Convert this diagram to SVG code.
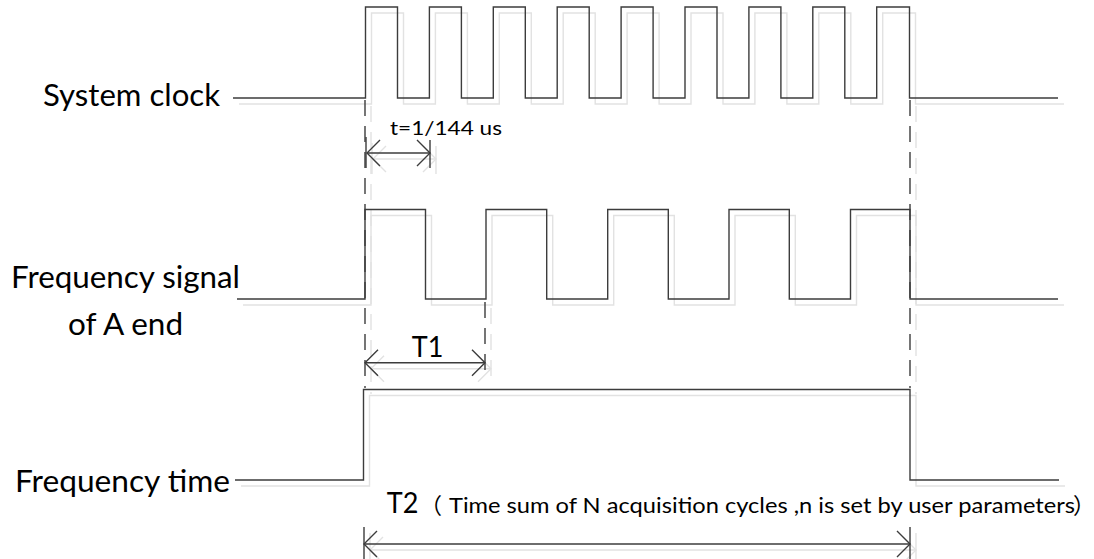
<svg xmlns="http://www.w3.org/2000/svg" xmlns:xlink="http://www.w3.org/1999/xlink" width="1094" height="559" viewBox="0 0 1094 559">
<style>
  .lbl { font-family: Lato, "Open Sans", "Liberation Sans", sans-serif; fill: #000; }
  .big { font-size: 30px; }
  .mid { font-size: 28px; }
  .sm { font-size: 19px; }
  .note { font-size: 22px; }
  .cjk { font-family: "Noto Sans CJK SC", sans-serif; font-size: 22px; fill: #000; }
  .lines path, .lines line, .lines use { fill: none; }
  .dash { stroke-dasharray: 16 10; }
  .shadow { stroke: #e2e2e2; stroke-width: 1.4; }
  .main { stroke: #3c3c3c; stroke-width: 1.4; }
</style>
<defs>
  <path id="ahL" d="M13,-13 L0,0 L13,13" fill="none"/>
  <path id="ahR" d="M-13,-13 L0,0 L-13,13" fill="none"/>
  <g id="art" class="lines" fill="none">
    <g id="sig-clock">
      <path d="M233,98 H365.5 V7 H397.5 V98 H429.4 V7 H461.4 V98 H493.3 V7 H525.3 V98 H557.2 V7 H589.2 V98 H621.1 V7 H653.1 V98 H685 V7 H717 V98 H748.9 V7 H780.9 V98 H812.8 V7 H844.8 V98 H876.7 V7 H909.5 V98 H1058"/>
    </g>
    <g id="sig-freq">
      <path d="M237,299 H365 V209.5 H425.5 V299 H486 V209.5 H546.7 V299 H607.7 V209.5 H668.3 V299 H729 V209.5 H789.3 V299 H850.5 V209.5 H910 V299 H1058"/>
    </g>
    <g id="sig-time">
      <path d="M235,480 H363.5 V389.5 H910 V480 H1059"/>
    </g>
    <g id="guides">
      <line class="dash" x1="365" y1="100" x2="365" y2="388"/>
      <line class="dash" x1="910" y1="100" x2="910" y2="388"/>
      <line class="dash" x1="485" y1="302" x2="485" y2="378"/>
    </g>
    <g id="dim-t">
      <line x1="366" y1="137" x2="366" y2="168"/>
      <line x1="430" y1="140" x2="430" y2="168"/>
      <line x1="367" y1="153" x2="430" y2="153"/>
      <use xlink:href="#ahL" href="#ahL" x="367" y="153"/>
      <use xlink:href="#ahR" href="#ahR" x="430" y="153"/>
    </g>
    <g id="dim-T1">
      <line x1="365" y1="362.7" x2="485" y2="362.7"/>
      <use xlink:href="#ahL" href="#ahL" x="365" y="362.7"/>
      <use xlink:href="#ahR" href="#ahR" x="485" y="362.7"/>
    </g>
    <g id="dim-T2">
      <line x1="364" y1="527" x2="364" y2="559"/>
      <line x1="910" y1="527" x2="910" y2="559"/>
      <line x1="364" y1="544" x2="910" y2="544"/>
      <use xlink:href="#ahL" href="#ahL" x="364" y="544"/>
      <use xlink:href="#ahR" href="#ahR" x="910" y="544"/>
    </g>
  </g>
</defs>
<rect width="1094" height="559" fill="#fff"/>
<use xlink:href="#art" href="#art" class="shadow" transform="translate(6,6)"/>
<use xlink:href="#art" href="#art" class="main"/>
<g id="labels">
  <text class="lbl big" x="43" y="106" textLength="177" lengthAdjust="spacingAndGlyphs">System clock</text>
  <text class="lbl big" x="11" y="288" textLength="229" lengthAdjust="spacingAndGlyphs">Frequency signal</text>
  <text class="lbl big" x="68" y="335" textLength="115" lengthAdjust="spacingAndGlyphs">of A end</text>
  <text class="lbl big" x="15" y="491.7" textLength="215" lengthAdjust="spacingAndGlyphs">Frequency time</text>
  <text class="lbl sm" x="390" y="135" textLength="112" lengthAdjust="spacingAndGlyphs">t=1/144 us</text>
  <text class="lbl mid" x="411.7" y="356.7" textLength="31.6" lengthAdjust="spacingAndGlyphs">T1</text>
  <text class="lbl mid" x="386.7" y="512.7" textLength="31.6" lengthAdjust="spacingAndGlyphs">T2</text>
  <text class="cjk" x="420" y="512.7">（</text>
  <text class="lbl note" x="449" y="512.7" textLength="626" lengthAdjust="spacingAndGlyphs">Time sum of N acquisition cycles ,n is set by user parameters</text>
  <text class="cjk" x="1073" y="512.7">）</text>
</g>
</svg>
